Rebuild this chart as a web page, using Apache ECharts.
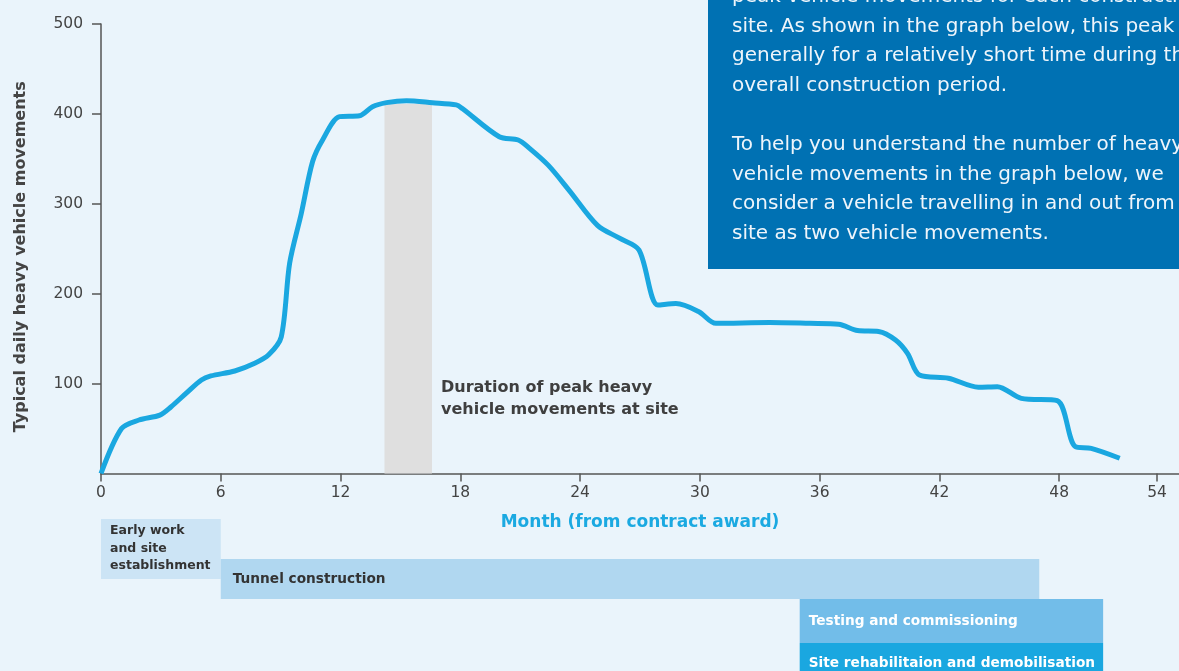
<!DOCTYPE html>
<html>
<head>
<meta charset="utf-8">
<script src="https://cdn.jsdelivr.net/npm/echarts@6/dist/echarts.min.js"></script>
<style>
  html, body { margin: 0; padding: 0; background: #eaf4fb; }
  #chart { width: 1179px; height: 671px; }
</style>
</head>
<body>
<div id="chart"></div>
<script>
// heavy vehicle movements (month from contract award)
const months = [0, 1.03, 1.9, 2.95, 3.5, 4.3, 5.03, 5.5, 6.7, 7.7, 8.4, 9.03, 9.45, 10.03, 10.6, 11.1,
  11.95, 12.95, 13.6, 14.3, 15.3, 16.6, 17.8, 18.1, 19.95, 20.9, 21.45, 22.4, 23.45, 24.87, 25.95,
  26.95, 27.9, 28.8, 29.95, 30.8, 33.5, 35.5, 36.95, 37.9, 38.95, 39.8, 40.4, 41.0, 42.45, 43.95,
  44.9, 46.1, 47.9, 48.8, 49.6, 51.03];
const movements = [0, 50, 59.5, 65, 74, 90, 104, 108.5, 114, 122.6, 132, 152, 234, 289, 347, 371,
  397, 398, 408, 412.5, 414.7, 412.5, 410, 406, 374.6, 371, 362, 343, 315, 276, 262,
  248.6, 187.4, 189, 180, 167, 168, 167, 166, 159, 158, 148.5, 133.7, 109.6, 106, 96,
  96.6, 83.6, 81, 30, 28, 17];

const xTickValues = [0, 6, 12, 18, 24, 30, 36, 42, 48, 52.9];
const xTickLabels = ['0', '6', '12', '18', '24', '30', '36', '42', '48', '54'];
const yTickValues = [100, 200, 300, 400, 500];

const peakStart = 14.2;
const peakEnd = 16.58;
const peakTop = 411;

const phaseNames = ['Early work\nand site\nestablishment', 'Tunnel construction',
  'Testing and commissioning', 'Site rehabilitaion and demobilisation'];
const phaseStart = [0, 6, 35, 35];
const phaseEnd = [6, 47, 50.2, 50.2];
const phaseLane = [0, 1, 2, 3];

const noteLines = [
  'peak vehicle movements for each construction',
  'site. As shown in the graph below, this peak is',
  'generally for a relatively short time during the',
  'overall construction period.',
  '',
  'To help you understand the number of heavy',
  'vehicle movements in the graph below, we',
  'consider a vehicle travelling in and out from a',
  'site as two vehicle movements.'
];

const FONT = '"DejaVu Sans", "Noto Sans", sans-serif';
const laneColor = ['#cce4f5', '#b0d7f0', '#72bde9', '#1aa7e0'];
const laneText = ['#333333', '#333333', '#ffffff', '#ffffff'];
const laneOffset = [0, 0, 0, 0.1];
const laneSpan = [1.5, 1, 1.1, 1];
const lanePad = [9, 12, 9, 9];
const laneFont = [12.5, 13.7, 13.7, 13.7];

const chart = echarts.init(document.getElementById('chart'));

const option = {
  backgroundColor: '#eaf4fb',
  animation: false,
  grid: [
    { left: 101, right: 0, top: 24, bottom: 197.5 },
    { left: 101, right: 0, top: 519, bottom: 0 }
  ],
  xAxis: [
    {
      type: 'value', min: 0, max: 54,
      name: 'Month (from contract award)',
      nameLocation: 'middle', nameGap: 41,
      nameTextStyle: { color: '#1ba9e1', fontSize: 17, fontWeight: 'bold', fontFamily: FONT },
      axisLine: { lineStyle: { color: '#555', width: 1.5 } },
      axisTick: { show: true, length: 8, customValues: xTickValues, lineStyle: { color: '#555', width: 1.5 } },
      axisLabel: {
        customValues: xTickValues, margin: 11, color: '#444', fontSize: 15.5, fontFamily: FONT,
        formatter: v => xTickLabels[xTickValues.indexOf(v)]
      },
      splitLine: { show: false }
    },
    { type: 'value', gridIndex: 1, min: 0, max: 54, show: false }
  ],
  yAxis: [
    {
      type: 'value', min: 0, max: 500, interval: 100,
      name: 'Typical daily heavy vehicle movements',
      nameLocation: 'middle', nameGap: 72,
      nameTextStyle: { color: '#444', fontSize: 16, fontWeight: 'bold', fontFamily: FONT, padding: [0, 16, 0, 0] },
      axisLine: { show: true, lineStyle: { color: '#555', width: 1.5 } },
      axisTick: { show: true, length: 9, customValues: yTickValues, lineStyle: { color: '#555', width: 1.5 } },
      axisLabel: { customValues: yTickValues, margin: 18, color: '#444', fontSize: 15.5, fontFamily: FONT },
      splitLine: { show: false }
    },
    // 152px tall lane grid, 40px per lane
    { type: 'value', gridIndex: 1, inverse: true, min: 0, max: 3.8, show: false }
  ],
  graphic: [
    {
      type: 'rect', left: 708, top: 0, z: 0,
      shape: { width: 480, height: 269 },
      style: { fill: '#0071b3' }
    },
    {
      type: 'text', left: 732, top: -18, z: 1,
      style: {
        text: noteLines.join('\n'), fill: '#eef5fb', fontSize: 20, lineHeight: 29.6,
        fontFamily: FONT
      }
    },
    {
      type: 'text', left: 441, top: 377, z: 1,
      style: {
        text: 'Duration of peak heavy\nvehicle movements at site', fill: '#3f3f3f',
        fontSize: 16, lineHeight: 22, fontWeight: 'bold', fontFamily: FONT
      }
    }
  ],
  series: [
    {
      type: 'line',
      data: months.map((m, i) => [m, movements[i]]),
      smooth: 0.3,
      showSymbol: false,
      lineStyle: { color: '#1aa7e0', width: 5 },
      z: 3,
      markArea: {
        silent: true,
        itemStyle: { color: '#dfdfdf' },
        data: [[{ xAxis: peakStart, yAxis: 0 }, { xAxis: peakEnd, yAxis: peakTop }]]
      }
    },
    {
      type: 'custom',
      xAxisIndex: 1, yAxisIndex: 1,
      clip: false,
      data: phaseNames.map((n, i) => [phaseStart[i], phaseEnd[i], phaseLane[i]]),
      encode: { x: [0, 1], y: 2 },
      renderItem: (params, api) => {
        const i = params.dataIndex;
        const lane = api.value(2) + laneOffset[i];
        const a = api.coord([api.value(0), lane]);
        const b = api.coord([api.value(1), lane + laneSpan[i]]);
        const top = a[1];
        const height = b[1] - a[1];
        const multi = phaseNames[i].indexOf('\n') >= 0;
        const zz = i === 2 ? 10 : 0;
        return {
          type: 'group',
          children: [
            {
              type: 'rect', z2: zz,
              shape: { x: a[0], y: top, width: b[0] - a[0], height: height },
              style: { fill: laneColor[i] }
            },
            {
              type: 'text', z2: zz + 1,
              style: {
                text: phaseNames[i],
                x: a[0] + lanePad[i],
                y: multi ? top + 3 : top + height / 2,
                verticalAlign: multi ? 'top' : 'middle',
                fill: laneText[i], fontSize: laneFont[i], lineHeight: 17.5,
                fontWeight: 'bold', fontFamily: FONT
              }
            }
          ]
        };
      }
    }
  ]
};

chart.setOption(option);
</script>
</body>
</html>
